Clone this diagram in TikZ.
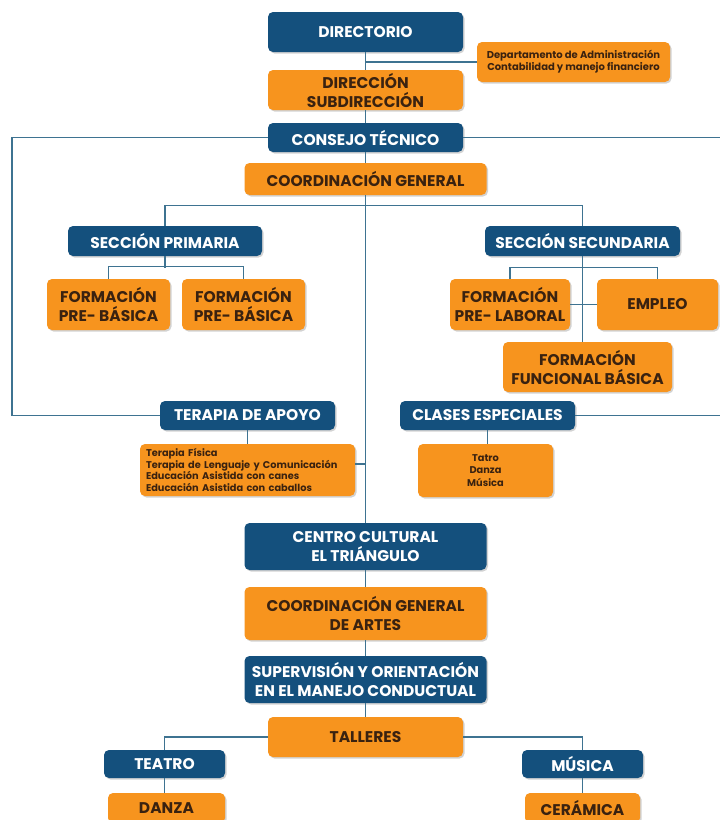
\documentclass[tikz,border=0pt]{standalone}
\usepackage{fontspec}
\setmainfont{Poppins}
\usetikzlibrary{shadows}
\definecolor{cblue}{HTML}{14507D}
\definecolor{corange}{HTML}{F7941E}
\definecolor{ctext}{HTML}{3A2210}
\definecolor{cline}{HTML}{3E7391}
\tikzset{
  box/.style={rounded corners=5pt, align=center, inner sep=2pt,
    drop shadow={opacity=0.35, shadow xshift=1.5pt, shadow yshift=-1.5pt},
    font=\bfseries\fontsize{15.5}{19}\selectfont},
  bbox/.style={box, fill=cblue, text=white},
  obox/.style={box, fill=corange, text=ctext},
  sz/.style 2 args={minimum width=#1pt, minimum height=#2pt},
  small/.style={font=\bfseries\fontsize{10}{12}\selectfont},
  conn/.style={draw=cline, line width=1.1pt}
}
\begin{document}
\begin{tikzpicture}[x=1pt,y=-1pt]
\clip (0,0) rectangle (720,820);
\fill[white] (0,0) rectangle (720,820);
% nodes
\node[bbox, sz={195}{40}] (dir) at (365.5,32) {DIRECTORIO};
\node[obox, small, sz={193}{40}] (admin) at (573.5,62) {Departamento de Administración\\Contabilidad y manejo financiero};
\node[obox, sz={195}{40}] (dirsub) at (365.5,90) {DIRECCIÓN\\SUBDIRECCIÓN};
\node[bbox, sz={195}{29}] (consejo) at (365.5,137.5) {CONSEJO TÉCNICO};
\node[obox, sz={242}{32}] (coord) at (365.5,179) {COORDINACIÓN GENERAL};
\node[bbox, sz={194}{30}] (sp) at (165,241) {SECCIÓN PRIMARIA};
\node[bbox, sz={195}{30}] (ss) at (582.5,241) {SECCIÓN SECUNDARIA};
\node[obox, sz={123}{51}] (fp1) at (108.5,304.5) {FORMACIÓN\\PRE- BÁSICA};
\node[obox, sz={123}{51}] (fp2) at (243.5,304.5) {FORMACIÓN\\PRE- BÁSICA};
\node[obox, sz={120}{51}] (fpl) at (510,304.5) {FORMACIÓN\\PRE- LABORAL};
\node[obox, sz={121}{51}] (emp) at (657.5,304.5) {EMPLEO};
\node[obox, sz={169}{50}] (ffb) at (587.5,367) {FORMACIÓN\\FUNCIONAL BÁSICA};
\node[bbox, sz={175}{29}] (terapia) at (247.5,415.5) {TERAPIA DE APOYO};
\node[bbox, sz={175}{29}] (clases) at (487.5,415.5) {CLASES ESPECIALES};
\node[obox, align=left, text width=203pt, inner xsep=6pt, minimum height=52pt, font=\bfseries\fontsize{9.8}{11.6}\selectfont] (tlist) at (247.5,470) {Terapia Física\\Terapia de Lenguaje y Comunicación\\Educación Asistida con canes\\Educación Asistida con caballos};
\node[obox, sz={135}{53}, font=\bfseries\fontsize{9.8}{12.5}\selectfont] (clist) at (485.5,470.5) {Tatro\\Danza\\Música};
\node[bbox, sz={242}{47}] (centro) at (365.5,546.5) {CENTRO CULTURAL\\EL TRIÁNGULO};
\node[obox, sz={242}{53}] (cga) at (365.5,613.5) {COORDINACIÓN GENERAL\\DE ARTES};
\node[bbox, sz={242}{47}, inner xsep=0pt] (sup) at (365.5,679.5) {SUPERVISIÓN Y ORIENTACIÓN\\EN EL MANEJO CONDUCTUAL};
\node[obox, sz={195}{40}] (talleres) at (365.5,737) {TALLERES};
\node[bbox, sz={121}{28}] (teatro) at (164.5,764) {TEATRO};
\node[obox, sz={117}{30}] (danza) at (166.5,808) {DANZA};
\node[bbox, sz={121}{28}] (musica) at (582.5,764) {MÚSICA};
\node[obox, sz={115}{30}] (ceramica) at (582.5,808) {CERÁMICA};
\coordinate (lc) at (12,0);
\coordinate (rc) at (730,0);
% connectors
\draw[conn] (dir.south) -- (dirsub.north);
\draw[conn] (admin.west) -- (admin.west -| dir.south);
\draw[conn] (dirsub.south) -- (consejo.north);
\draw[conn] (consejo.south) -- (coord.north);
\draw[conn] (coord.south) -- (centro.north);
\draw[conn] (consejo.west) -| (lc |- terapia.west) -- (terapia.west);
\draw[conn] (consejo.east) -- (rc |- consejo.east);
\draw[conn] (clases.east) -- (rc |- clases.east);
\draw[conn] (sp.north) -- ++(0,-20) -| (ss.north);
\draw[conn] (sp.south) -- ++(0,12);
\draw[conn] (fp1.north) -- ++(0,-12) -| (fp2.north);
\draw[conn] (ss.south) -- (ss.south |- ffb.north);
\draw[conn] (fpl.north) -- ++(0,-11) -| (emp.north);
\draw[conn] (fpl.east) -- (emp.west);
\draw[conn] (terapia.south) -- (terapia.south |- tlist.north);
\draw[conn] ([yshift=6pt]tlist.east) -- ([yshift=6pt]tlist.east -| coord.south);
\draw[conn] (clases.south) -- (clases.south |- clist.north);
\draw[conn] (centro.south) -- (cga.north);
\draw[conn] (cga.south) -- (sup.north);
\draw[conn] (sup.south) -- (talleres.north);
\draw[conn] (talleres.west) -| (teatro.north);
\draw[conn] (talleres.east) -| (musica.north);
\draw[conn] (teatro.south) -- (teatro.south |- danza.north);
\draw[conn] (musica.south) -- (musica.south |- ceramica.north);
\end{tikzpicture}
\end{document}
